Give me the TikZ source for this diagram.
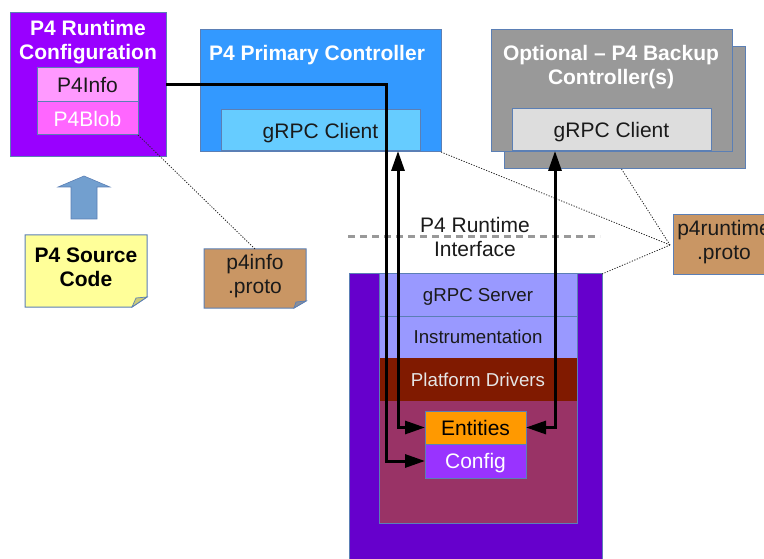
\documentclass[tikz,border=0pt]{standalone}
\usepackage{fontspec}
\setmainfont{Liberation Sans}
\usetikzlibrary{arrows.meta}
\definecolor{edgeb}{HTML}{5B7FB5}
\definecolor{cfgc}{HTML}{9900FF}
\definecolor{infoc}{HTML}{FF99FF}
\definecolor{blobc}{HTML}{FF66FF}
\definecolor{primc}{HTML}{3399FF}
\definecolor{clic}{HTML}{66CCFF}
\definecolor{grayc}{HTML}{999999}
\definecolor{cli2c}{HTML}{DDDDDD}
\definecolor{upc}{HTML}{729FCF}
\definecolor{notec}{HTML}{FFFF99}
\definecolor{foldy}{HTML}{CCCC7A}
\definecolor{brownc}{HTML}{C99664}
\definecolor{foldb}{HTML}{8A8F99}
\definecolor{swc}{HTML}{6600CC}
\definecolor{srvc}{HTML}{9999FF}
\definecolor{drvc}{HTML}{801A00}
\definecolor{redc}{HTML}{993366}
\definecolor{entc}{HTML}{FF9900}
\definecolor{confc}{HTML}{9933FF}
\definecolor{txtd}{HTML}{1A1A1A}
\newcommand{\fsA}{\fontsize{21}{24}\selectfont}
\newcommand{\fsB}{\fontsize{18.7}{22}\selectfont}
\tikzset{
  box/.style={draw=edgeb,line width=1pt,anchor=north west,inner sep=0pt,outer sep=0pt,align=center,font=\fsA,text depth=0pt},
  title/.style={text=white,font=\fsA\bfseries,align=center,inner sep=0pt},
  label/.style={font=\fsA,align=center,inner sep=0pt},
  small/.style={box,font=\fsB},
  link/.style={line width=3pt,black},
  linktip/.style={link,-{Triangle[length=20pt,width=13pt]}},
  both/.style={link,{Triangle[length=20pt,width=13pt]}-{Triangle[length=20pt,width=13pt]}},
  dots/.style={line width=0.8pt,dash pattern=on 1.2pt off 1.5pt,black!85},
}
\begin{document}
\begin{tikzpicture}[x=1pt,y=-1pt]
\useasboundingbox (0,0) rectangle (764,559);
% backup controller stack
\node[box,fill=grayc,minimum width=241pt,minimum height=122pt] (backb) at (504,47) {};
\node[box,fill=grayc,minimum width=241pt,minimum height=122pt] (backf) at (491,30) {};
\node[title] (backt) at (611,67) {Optional – P4 Backup\\Controller(s)};
\node[box,fill=cli2c,text=txtd,minimum width=199pt,minimum height=42pt] (cli2) at (512,109) {gRPC Client};
% primary controller
\node[box,fill=primc,minimum width=241pt,minimum height=122pt] (prim) at (200,30) {};
\node[title] (primt) at (317,55.5) {P4 Primary Controller};
\node[box,fill=clic,text=txtd,minimum width=199pt,minimum height=41pt] (cli1) at (221,110) {gRPC Client};
% runtime configuration
\node[box,fill=cfgc,minimum width=156pt,minimum height=144pt] (cfg) at (10,13) {};
\node[title] (cfgt) at (88,42) {P4 Runtime\\Configuration};
\node[box,fill=infoc,text=txtd,minimum width=101pt,minimum height=34pt] (info) at (37,68) {P4Info};
\node[box,fill=blobc,text=white,minimum width=101pt,minimum height=33pt] (blob) at (37,102) {P4Blob};
% up arrow
\fill[upc,draw=edgeb,line width=0.6pt] (71,219) -- (71,187) -- (58,187) -- (84,176) -- (110,187) -- (97,187) -- (97,219) -- cycle;
% source note
\fill[notec,draw=edgeb,line width=1pt] (25,235) -- (147,235) -- (147,297) -- (132,307) -- (25,307) -- cycle;
\fill[foldy,draw=edgeb,line width=0.7pt] (147,297) -- (136,298) -- (132,307) -- cycle;
\node[label,font=\fsA\bfseries] (src) at (86,267.5) {P4 Source\\Code};
% p4info note
\fill[brownc,draw=edgeb,line width=1pt] (204,249) -- (306,249) -- (306,301) -- (294,308) -- (204,308) -- cycle;
\fill[foldb,draw=edgeb,line width=0.7pt] (306,301) -- (296,302) -- (294,308) -- cycle;
\node[label,text=txtd] (pinfo) at (255,276.5) {p4info\\.proto};
% p4runtime note
\fill[brownc,draw=edgeb,line width=1pt] (673,215) -- (780,215) -- (780,275) -- (673,275) -- cycle;
\node[label,text=txtd] (prt) at (724,242) {p4runtime\\.proto};
% switch
\node[box,fill=swc,minimum width=253pt,minimum height=300pt] (sw) at (349,274) {};
\node[small,fill=srvc,text=txtd,minimum width=198pt,minimum height=42pt] (srv) at (379,274) {gRPC Server};
\node[small,fill=srvc,text=txtd,minimum width=198pt,minimum height=42pt] (ins) at (379,316) {Instrumentation};
\node[box,draw=none,fill=redc,minimum width=198pt,minimum height=165pt] (red) at (379,358) {};
\draw[edgeb,line width=1pt] (red.north west) rectangle (red.south east);
\node[small,draw=none,fill=drvc,text=white!90!black,minimum width=197pt,minimum height=43pt] (drv) at (379.5,358) {Platform Drivers};
\node[box,fill=entc,text=black,minimum width=101pt,minimum height=33pt] (ent) at (425,411) {Entities};
\node[box,fill=confc,text=white,minimum width=101pt,minimum height=34pt] (conf) at (425,444) {Config};
% interface label and dashed line
\coordinate (dashl) at (348,237);
\coordinate (dashr) at (600,237);
\draw[grayc,line width=3pt,dash pattern=on 7pt off 5pt] (dashl) -- (dashr);
\node[label,text=txtd] (ifc) at (475,236.5) {P4 Runtime\\Interface};
% dotted leaders
\coordinate (hub) at (670,245);
\coordinate (infotop) at (pinfo.north |- 0,249);
\coordinate (backout) at ([xshift=-1pt]backb.south);
\draw[dots] (blob.south east) -- (infotop);
\draw[dots] (prim.south east) -- (hub);
\draw[dots] (backout) ++(-2,0) -- (hub);
\draw[dots] (sw.north east) -- (hub);
% connectors
\coordinate (c1) at ([xshift=77.5pt]cli1.south);
\coordinate (c2) at ([xshift=-56.5pt]cli2.south);
\coordinate (bend) at ([xshift=-39pt]conf.west);
\draw[linktip] (info.east -| cfg.east) -- (info.east -| bend) -- (bend) -- (conf.west);
\draw[both] (c1) -- (c1 |- ent.west) -- (ent.west);
\draw[both] (c2) -- (c2 |- ent.east) -- (ent.east);
\end{tikzpicture}
\end{document}
